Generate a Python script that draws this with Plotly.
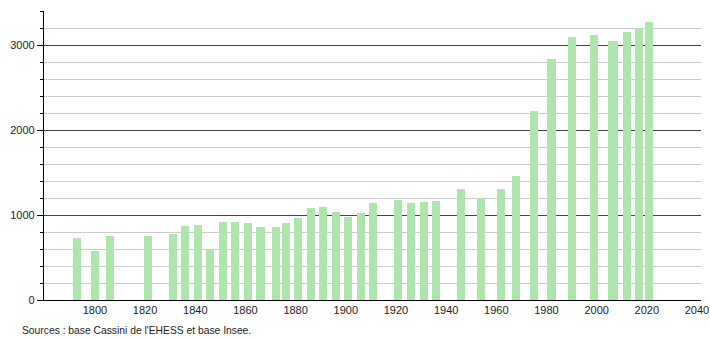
import plotly.graph_objects as go

years = [1793, 1800, 1806, 1821, 1831, 1836, 1841, 1846, 1851, 1856, 1861, 1866,
         1872, 1876, 1881, 1886, 1891, 1896, 1901, 1906, 1911, 1921, 1926, 1931,
         1936, 1946, 1954, 1962, 1968, 1975, 1982, 1990, 1999, 2006, 2007, 2012,
         2017, 2021]
population = [726, 576, 753, 753, 776, 870, 882, 596, 918, 918, 902, 855,
              855, 906, 965, 1080, 1098, 1035, 976, 1024, 1137, 1176, 1137, 1153,
              1165, 1306, 1196, 1306, 1459, 2224, 2832, 3090, 3118, 3047, 3051, 3157,
              3196, 3270]
x_ticks = list(range(1800, 2041, 20))
y_ticks = [0, 1000, 2000, 3000]
source_text = "Sources : base Cassini de l'EHESS et base Insee."

fig = go.Figure()
fig.add_trace(go.Bar(
    x=years, y=population, width=3.2,
    marker=dict(color="rgb(174,229,172)", line=dict(width=0)),
))

fig.update_layout(
    width=710, height=340,
    margin=dict(l=44, r=9, t=11, b=40),
    paper_bgcolor="white", plot_bgcolor="white",
    showlegend=False,
    font=dict(family="Liberation Sans, Arial, sans-serif", size=11, color="#222"),
    bargap=0,
    xaxis=dict(
        range=[1779.7, 2041.6], automargin=False,
        tickvals=x_ticks, ticktext=[str(v) for v in x_ticks],
        showgrid=False, zeroline=False,
        showline=True, linecolor="black", linewidth=1.2,
        ticks="", tickfont=dict(size=11),
    ),
    yaxis=dict(
        range=[0, 3400], automargin=False,
        tickvals=y_ticks,
        showgrid=True, gridcolor="#444", gridwidth=1,
        zeroline=False,
        showline=True, linecolor="black", linewidth=1.2,
        ticks="outside", ticklen=6, tickcolor="black",
        minor=dict(dtick=200, showgrid=True, gridcolor="#cccccc", gridwidth=1,
                   ticks="outside", ticklen=3, tickcolor="black"),
        tickfont=dict(size=11),
    ),
    annotations=[dict(
        text=source_text, xref="paper", yref="paper",
        x=-0.036, y=-0.104, xanchor="left", yanchor="middle",
        showarrow=False, font=dict(size=10.3, color="#222"),
    )],
)

fig.write_html("out.html")
